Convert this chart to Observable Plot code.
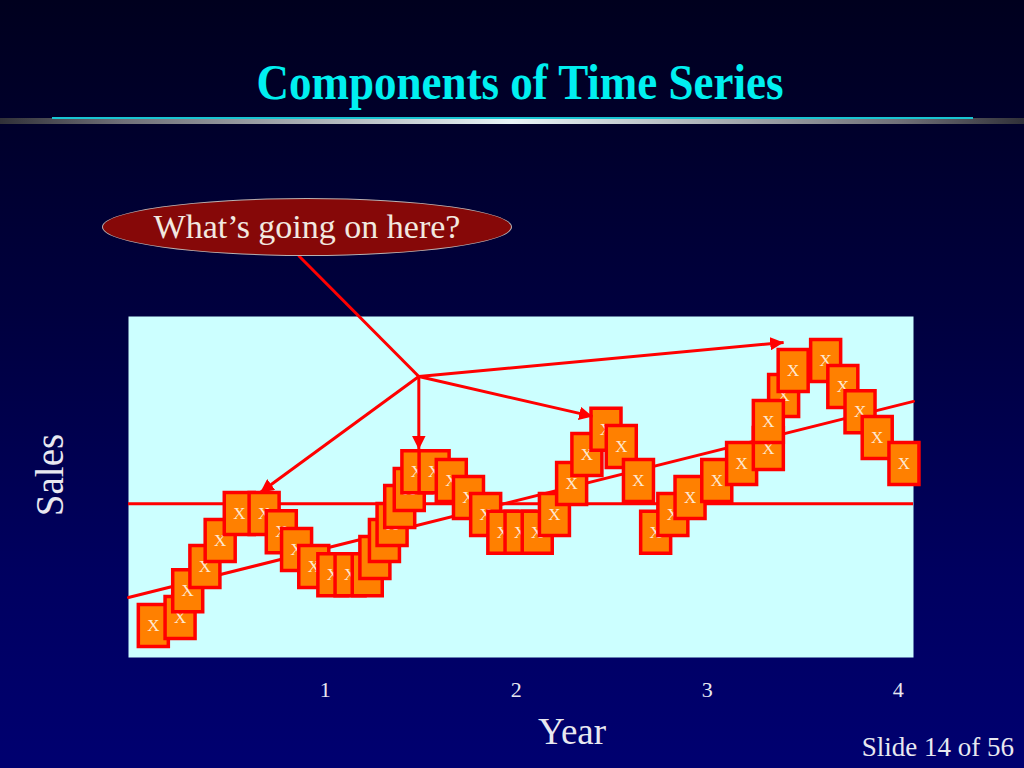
<!DOCTYPE html>
<html>
<head>
<meta charset="utf-8">
<script src="https://cdn.jsdelivr.net/npm/d3@7"></script>
<script src="https://cdn.jsdelivr.net/npm/@observablehq/plot@0.6"></script>
<style>
html,body{margin:0;padding:0}
body{width:1024px;height:768px;overflow:hidden;position:relative;
  background:linear-gradient(to bottom,#00001e 0%,#00003e 40%,#000060 75%,#000070 100%);
  font-family:"Liberation Serif","Times New Roman",serif}
#chart{position:absolute;left:0;top:0}
.title{position:absolute;left:8px;width:1024px;top:62px;text-align:center;font-weight:bold;font-size:45px;line-height:45px;color:#00f0f0;
  transform:scaleY(1.12);transform-origin:50% 80%}
.bar{position:absolute;left:0;top:118px;width:1024px;height:6px;
  background:linear-gradient(to right,#303038 0%,#707078 12%,#e8f4f6 50%,#707078 88%,#303038 100%)}
.cyan{position:absolute;left:52px;top:117px;width:921px;height:2px;background:#19c5d2}
.callout{position:absolute;left:102px;top:198px;width:410px;height:58px;box-sizing:border-box;border-radius:50%;
  background:#860808;border:1.5px solid #b8b0b0;color:#f2e8e0;font-size:34px;line-height:55px;text-align:center}
.slide{position:absolute;right:10px;top:734px;font-size:27px;line-height:27px;color:#e8e8f0}
</style>
</head>
<body>
<div id="chart"></div>
<div class="title">Components of Time Series</div>
<div class="bar"></div>
<div class="cyan"></div>
<div class="callout">What’s going on here?</div>
<div class="slide">Slide 14 of 56</div>
<script>
// ---- data ----
const years = [0.10,0.24,0.28,0.37,0.45,0.55,0.68,0.77,0.85,0.94,1.04,1.13,1.22,1.26,1.31,1.35,1.39,1.44,1.48,1.57,1.66,1.75,1.84,1.93,2.02,2.11,2.20,2.29,2.37,2.47,2.55,2.64,2.73,2.82,2.91,3.05,3.18,3.32,3.40,3.32,3.45,3.62,3.71,3.80,3.89,4.03];
const sales = [9.4,11.7,19.6,26.7,34.3,42.2,42.2,36.9,31.7,26.7,24.3,24.3,24.3,29.3,34.3,39.0,44.3,49.3,54.5,54.5,51.9,46.9,41.9,36.7,36.7,36.7,41.9,51.0,59.5,66.9,61.9,51.9,36.7,41.9,46.9,51.9,56.9,61.3,76.8,69.2,84.2,87.1,79.5,72.1,64.5,56.9];
const xTicks = [1, 2, 3, 4];
const levelSales = [45.1];
const trendYears = [-0.03, 4.08];
const trendSales = [17.6, 75.1];
const hubYear = [1.49];
const hubSales = [82.4];
const calloutYear = [0.86];
const calloutSales = [117.9];
const arrowYears = [0.66, 1.49, 2.40, 3.40];
const arrowSales = [48.4, 61.0, 70.7, 92.4];
const xLabel = "Year";
const yLabel = "Sales";

// ---- tables built from the arrays ----
const points = years.map((x, i) => ({year: x, sales: sales[i]}));
const trend = trendYears.map((x, i) => ({year: x, sales: trendSales[i]}));
const arrows = arrowYears.map((x, i) => ({x1: hubYear[0], y1: hubSales[0], x2: x, y2: arrowSales[i]}));
const calloutLink = [{x1: calloutYear[0], y1: calloutSales[0], x2: hubYear[0], y2: hubSales[0]}];

const RED = "#ff0000", ORANGE = "#ff8000", TXT = "#e8e8f0";
const boxSymbol = {draw(context) { context.rect(-15, -21, 30, 42); }};

function triHead(color, context) {
  const m = d3.create("svg:marker")
    .attr("viewBox", "-10 -5 10 10")
    .attr("markerWidth", 4.5).attr("markerHeight", 4.5)
    .attr("orient", "auto").attr("fill", color).attr("stroke", "none");
  m.append("path").attr("d", "M-10,-5L0,0L-10,5Z");
  return m.node();
}

function build(marker) {
  const boxMarks = points.flatMap(d => [
    Plot.dot([d], {x: "year", y: "sales", symbol: boxSymbol, fill: ORANGE, stroke: RED, strokeWidth: 3.5}),
    Plot.text([d], {x: "year", y: "sales", text: () => "X", fill: "#fde8d2", fontSize: 17, fontFamily: "Liberation Serif"})
  ]);
  return Plot.plot({
    width: 1024, height: 768,
    marginLeft: 128, marginRight: 111, marginTop: 316, marginBottom: 111,
    style: {background: "transparent", color: TXT, fontSize: "22px", fontFamily: "Liberation Serif, Times New Roman, serif", maxWidth: "none"},
    x: {domain: [-0.03, 4.08], ticks: xTicks, tickFormat: d => String(d), tickSize: 0, tickPadding: 24, label: null},
    y: {domain: [0, 100], axis: null},
    marks: [
      Plot.frame({fill: "#ccffff", stroke: "none"}),
      Plot.ruleY(levelSales, {stroke: RED, strokeWidth: 3}),
      Plot.line(trend, {x: "year", y: "sales", stroke: RED, strokeWidth: 3}),
      ...boxMarks,
      Plot.link(calloutLink, {x1: "x1", y1: "y1", x2: "x2", y2: "y2", stroke: RED, strokeWidth: 3}),
      Plot.link(arrows, {x1: "x1", y1: "y1", x2: "x2", y2: "y2", stroke: RED, strokeWidth: 3, markerEnd: marker}),
      Plot.text([xLabel], {text: d => d, frameAnchor: "bottom", textAnchor: "middle", dx: 51, dy: 86, fontSize: 37, fill: TXT}),
      Plot.text([yLabel], {text: d => d, frameAnchor: "left", textAnchor: "middle", rotate: -90, dx: -78, dy: -12, fontSize: 39, fill: TXT})
    ]
  });
}

let chart;
try { chart = build(triHead); } catch (e) { chart = build("arrow"); }
document.getElementById("chart").append(chart);
</script>
</body>
</html>
